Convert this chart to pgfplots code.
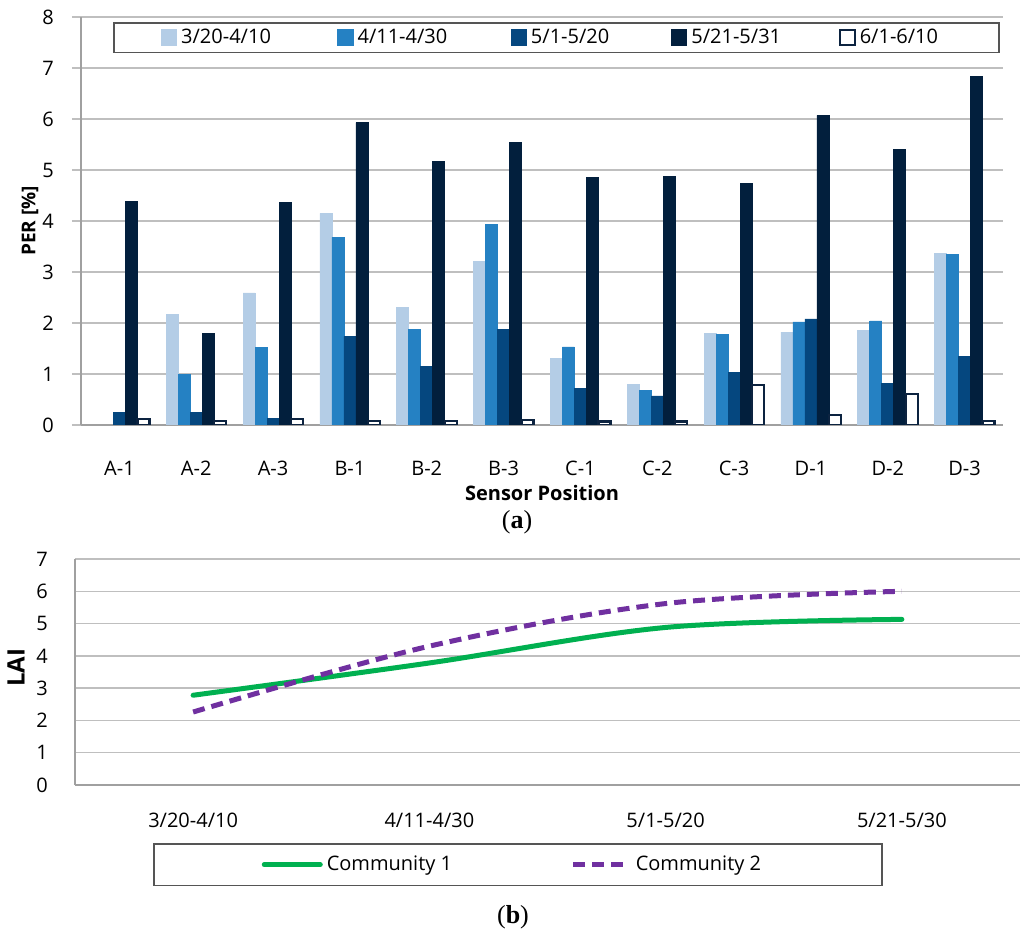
\documentclass[border=0pt]{standalone}
\usepackage{fontspec}
\setmainfont{Open Sans}
\newfontfamily\seriffont{Liberation Serif}
\usepackage{pgfplots}
\pgfplotsset{compat=1.18}
\definecolor{c1}{HTML}{B4CDE6}
\definecolor{c2}{HTML}{2581C3}
\definecolor{c3}{HTML}{05477F}
\definecolor{c4}{HTML}{021F3D}
\definecolor{c5}{HTML}{0C2340}
\definecolor{gridc}{HTML}{BFBFBF}
\definecolor{axc}{HTML}{A0A0A0}
\definecolor{legc}{HTML}{555555}
\definecolor{comm1}{HTML}{00B050}
\definecolor{comm2}{HTML}{7030A0}
\begin{document}
\fontsize{10}{12}\selectfont
\begin{tikzpicture}
\useasboundingbox (0pt,0pt) rectangle (512pt,-468.5pt);
% ---------------- panel (a)
\begin{axis}[
  at={(40.5pt,-8.5pt)}, anchor=north west,
  scale only axis, width=461pt, height=204pt,
  clip mode=individual,
  ybar=0pt, bar width=6pt,
  xmin=-0.5, xmax=11.5, ymin=0, ymax=8,
  xtick={0,...,11},
  xticklabels={A-1,A-2,A-3,B-1,B-2,B-3,C-1,C-2,C-3,D-1,D-2,D-3},
  ytick={0,...,8},
  axis x line*=bottom, axis y line*=left,
  x axis line style={-, draw=axc, line width=0.8pt},
  y axis line style={-, draw=axc, line width=0.6pt},
  ymajorgrids, grid style={draw=gridc, line width=0.75pt},
  major x tick style={draw=none},
  major y tick style={draw=gridc, line width=0.75pt},
  tick align=outside, major tick length=4.5pt,
  /pgf/number format/assume math mode=true,
  tick label style={font=\fontsize{10}{12}\selectfont},
  xticklabel style={yshift=-10pt},
  yticklabel style={xshift=-5.5pt},
  xlabel={\textbf{Sensor Position}},
  xlabel style={at={(axis description cs:0.5,-0.1667)}, anchor=center, font=\fontsize{10}{12}\selectfont},
  ylabel={\textbf{PER [\%]}},
  ylabel style={at={(axis description cs:-0.0553,0.5)}, anchor=center, font=\fontsize{9.5}{12}\selectfont},
  legend columns=5,
  legend style={at={(axis description cs:0.0347,0.9877)}, anchor=north west,
    draw=legc, line width=0.8pt, inner xsep=23.5pt, inner ysep=1pt,
    font=\fontsize{10}{12}\selectfont},
  every axis plot post/.append style={
    legend image code/.code={\draw[##1, line width=0.8pt] (0pt,-3.7pt) rectangle (7.4pt,3.7pt);}},
]
\addplot[fill=c1, draw=c1] coordinates {
 (1,2.17) (2,2.59) (3,4.15) (4,2.30) (5,3.21) (6,1.30) (7,0.80) (8,1.80) (9,1.82) (10,1.85) (11,3.37)};
\addlegendentry{\makebox[76pt][l]{3/20-4/10}}
\addplot[fill=c2, draw=c2] coordinates {
 (1,0.99) (2,1.52) (3,3.68) (4,1.87) (5,3.94) (6,1.53) (7,0.68) (8,1.78) (9,2.02) (10,2.04) (11,3.34)};
\addlegendentry{\makebox[74.5pt][l]{4/11-4/30}}
\addplot[fill=c3, draw=c3] coordinates {
 (0,0.24) (1,0.25) (2,0.13) (3,1.74) (4,1.14) (5,1.87) (6,0.71) (7,0.57) (8,1.03) (9,2.08) (10,0.82) (11,1.35)};
\addlegendentry{\makebox[68pt][l]{5/1-5/20}}
\addplot[fill=c4, draw=c4] coordinates {
 (0,4.38) (1,1.80) (2,4.36) (3,5.93) (4,5.17) (5,5.54) (6,4.86) (7,4.88) (8,4.74) (9,6.07) (10,5.41) (11,6.84)};
\addlegendentry{\makebox[72pt][l]{5/21-5/31}}
\addplot[fill=white, draw=c5, line width=1.1pt] coordinates {
 (0,0.12) (1,0.08) (2,0.12) (3,0.08) (4,0.08) (5,0.10) (6,0.07) (7,0.07) (8,0.78) (9,0.20) (10,0.61) (11,0.08)};
\addlegendentry{\makebox[44pt][l]{6/1-6/10}}
\node[font=\seriffont\fontsize{13}{15}\selectfont] at (axis description cs:0.473,-0.2377) {(\textbf{a})};
\end{axis}
% ---------------- panel (b)
\begin{axis}[
  at={(37.5pt,-279.5pt)}, anchor=north west,
  scale only axis, width=472.5pt, height=113pt,
  clip mode=individual,
  xmin=-0.5, xmax=3.5, ymin=0, ymax=7,
  xtick={0,1,2,3},
  xticklabels={3/20-4/10,4/11-4/30,5/1-5/20,5/21-5/30},
  ytick={0,...,7},
  axis x line*=bottom, axis y line*=left,
  x axis line style={-, draw=axc, line width=0.8pt},
  y axis line style={-, draw=axc, line width=0.8pt},
  ymajorgrids, grid style={draw=gridc, line width=0.75pt},
  major tick length=0pt,
  /pgf/number format/assume math mode=true,
  tick label style={font=\fontsize{10}{12}\selectfont},
  xticklabel style={yshift=-10.5pt},
  yticklabel style={xshift=-10pt},
  ylabel={\textbf{LAI}},
  ylabel style={at={(axis description cs:-0.0624,0.518)}, anchor=center, font=\fontsize{12}{14}\selectfont},
  legend columns=2,
  legend style={at={(axis description cs:0.0825,-0.2566)}, anchor=north west,
    draw=legc, line width=0.8pt, inner xsep=54pt, inner ysep=4pt,
    font=\fontsize{10}{12}\selectfont},
  legend image code/.code={\draw[#1] (0pt,0pt) -- (28pt,0pt);},
]
\addplot[comm1, line width=2.5pt, smooth, tension=0.55, line cap=round] coordinates {
 (0,2.78) (1,3.78) (2,4.88) (3,5.13)};
\addlegendentry{\makebox[120pt][l]{Community 1}}
\addplot[comm2, line width=2.5pt, smooth, tension=0.55, dash pattern=on 6pt off 3.5pt] coordinates {
 (0,2.26) (1,4.30) (2,5.62) (3,6.00)};
\addlegendentry{\makebox[67pt][l]{Community 2}}
\node[font=\seriffont\fontsize{13}{15}\selectfont] at (axis description cs:0.4635,-0.584) {(\textbf{b})};
\end{axis}
\end{tikzpicture}
\end{document}
